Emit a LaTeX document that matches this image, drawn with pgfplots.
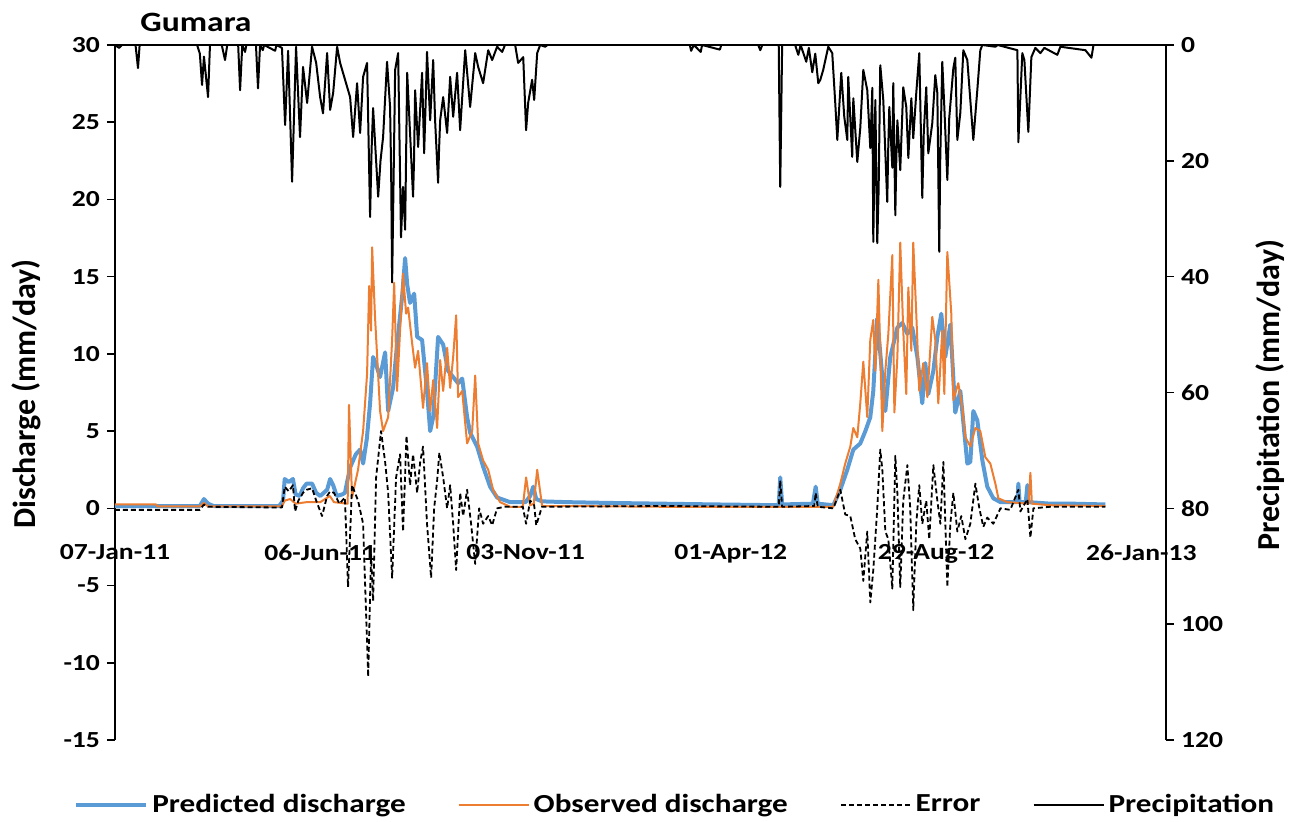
\documentclass[border=0pt]{standalone}
\usepackage{fontspec}
\setmainfont{Carlito}[FakeStretch=1.2]
\newfontfamily\rotfont{Carlito}
\usepackage{pgfplots}
\usepackage{pgfplotstable}
\pgfplotsset{compat=1.18}
\definecolor{predblue}{HTML}{5B9BD5}
\definecolor{obsorange}{HTML}{ED7D31}

% days after 07-Jan-11
\pgfplotstableread{
d v
0 0.15
30 0.15
62 0.15
65 0.6
68 0.3
72 0.15
120 0.15
122.8 0.5
124 1.9
127 1.7
130 1.9
132 0.9
135 0.8
137.4 1.3
140 1.6
144 1.6
147 1.0
150 0.8
155 1.2
157.2 1.9
159.4 1.5
162 0.8
166 0.9
168 1.0
171.8 2.65
176 3.5
179.1 3.8
181.3 2.9
184 4.5
186.4 6.8
188.6 9.8
190 9.5
193.7 8.5
197.4 10.1
199.6 6.3
203.2 7.8
206 10.5
209.8 13.7
212 16.2
213.5 14.5
215.6 13.3
218.6 13.9
220.8 11.1
224.4 10.9
228 7.6
230.3 5.0
232.5 5.9
236.1 11.1
239.8 10.6
243.4 8.9
247.1 8.5
250.7 8.1
253.7 8.4
257.3 5.9
259.5 4.9
264.6 4.0
269 2.7
274.1 1.4
279.2 0.7
288.7 0.4
300 0.4
303.4 0.8
305.6 1.4
307.8 0.6
312 0.45
330 0.4
360 0.35
400 0.3
440 0.25
485 0.2
486.1 2.0
487.5 0.25
510 0.3
512 1.4
513.5 0.3
524.9 0.2
530 1.2
535.1 2.5
539.5 3.8
544.6 4.2
548.3 5.0
551.9 5.9
554.1 7.6
557 12.3
560.7 8.5
562.9 6.3
566.5 9.8
571.7 11.7
575.3 12.0
579 11.3
582.6 11.7
586.3 9.8
589.9 6.8
592.1 9.4
594.3 7.4
598 8.9
600.9 11.1
603.8 12.6
606.7 9.8
610.4 11.9
614 6.2
617.7 7.6
622.8 2.9
625 3.0
627.2 6.3
630.1 5.7
633.8 3.1
637.4 1.4
641.8 0.65
647 0.4
659.4 0.4
660.1 1.6
661 0.4
665.5 0.4
666.7 1.5
667.6 0.4
683.5 0.3
700 0.3
723.7 0.25
}\pred

\pgfplotstableread{
d v
0 0.25
30 0.25
31 0.12
62 0.12
65 0.35
68 0.12
122 0.12
124 0.5
128 0.6
132 0.3
140 0.4
150 0.4
157 0.8
160 0.4
170 0.3
171 6.7
173.2 0.7
177.6 2.5
181.3 5.0
184.2 8.7
185.7 14.4
187.1 11.5
187.9 16.9
190 12.4
193.7 6.3
195.9 5.0
199.6 5.9
202.5 10.9
204 14.6
206.1 7.6
208.3 11.5
210.5 15.2
212.7 12.6
214.2 13.0
217.1 10.7
219.3 9.1
221.5 10.2
225.1 6.5
228 9.4
230.3 6.3
232.5 8.3
235.4 5.2
237.6 9.6
239.8 7.6
242.7 10.4
244.9 7.8
247.1 9.8
249.3 12.5
250.7 7.2
253.7 7.6
257.3 4.2
261 5.0
263.2 8.6
265.4 4.2
269 3.1
272.7 2.5
276.3 1.2
281.4 0.4
288.7 0.1
298 0.1
300.4 2.0
303.4 0.2
306 0.3
308.5 2.5
312.1 0.15
330 0.15
400 0.1
524.9 0.1
530 1.6
533.6 2.9
537.3 4.0
539.5 5.2
542.4 4.6
544.6 6.8
546.8 9.5
549.7 5.9
551.9 10.9
554.1 12.2
555.6 8.9
557.8 14.8
560.7 5.0
562.9 8.9
565.1 11.3
568 16.4
569.5 6.2
571.7 9.8
573.8 17.2
576 11.5
578.2 7.4
579.7 14.3
581.9 10.2
583.3 17.2
585.5 12.6
587.7 7.6
590.6 9.4
593.6 7.2
597.2 12.4
599.4 10.9
601.6 6.8
604.5 11.5
606 7.4
608.2 16.6
611.1 12.6
612.6 7.0
616.2 8.1
619.2 6.5
621.4 4.6
625 4.0
628.7 5.2
632.3 5.0
636 3.3
639.6 2.9
643.3 1.6
645.5 0.65
652 0.4
667.5 0.3
668.9 2.3
670 0.3
683.5 0.2
723.7 0.15
}\obs

\pgfplotstableread{
d v
0 -0.1
62 -0.1
65 0.25
68 0.1
122 0.05
124 1.4
127 1.1
130 1.5
131.6 -0.2
134 0.5
137.4 1.0
140 1.2
144 1.3
147 0.5
151.3 -0.5
155 0.8
157.2 1.1
160 1.0
164 0.3
168 0.7
170.3 -5.1
173.2 1.5
177.6 0.5
181.3 -1.0
185 -10.9
187.1 -3.0
188.6 -6.0
190.8 2.0
194.4 5.0
197.4 3.0
199.6 1.0
202.5 -4.5
205.4 2.0
208.3 3.5
210.5 -1.5
213 4.7
215.6 1.5
217.8 3.5
220.8 1.0
223 3.0
225.1 4.0
228 -1.0
231 -4.5
233.2 0.0
235.4 1.8
237 3.6
239.8 2.0
242.7 0.0
244.9 1.5
247.1 -1.0
249.3 -4.0
252.2 1.0
254.4 -0.5
257.3 1.2
260.2 -1.0
263.2 -3.6
266.1 0.0
269 -1.0
272.7 -0.5
275.6 -1.1
279.2 0.0
285 0.1
298 0.1
300.4 -1.0
303.4 0.5
306.3 0.2
307.8 -1.1
312 0.1
400 0.15
485 0.1
486.1 1.8
487.5 0.1
511 0.15
512 1.0
513.5 0.1
524.9 0.0
530 1.2
533.6 -0.4
537.3 -0.5
540.9 -2.0
544.6 -2.6
546.8 -4.7
549.7 -1.5
551.9 -6.1
554.1 -4.0
557 0.0
559.2 3.8
560.7 2.5
562.9 -1.5
565.1 -2.0
568 -5.2
570.2 3.4
571.7 1.0
573.8 -5.1
576 0.5
579 2.8
581.1 0.0
583.3 -6.6
585.5 -1.0
587.7 1.5
589.9 -1.0
592.8 0.5
595 -2.0
598 2.8
600.9 0.5
603.1 -1.0
605.3 3.0
608.2 -5.1
610.4 -1.0
612.6 1.0
615.5 -1.5
618.4 -0.5
621.4 -2.0
625 -1.0
628.7 1.6
631.6 0.0
634.5 -1.2
637.4 -0.6
641.8 -1.0
647 0.0
654.2 -0.1
660.1 1.2
661.6 -0.2
666.7 0.6
668.9 -1.9
671.1 0.0
683.5 0.1
723.7 0.1
}\err

\pgfplotstableread{
d v
0 0
3 0.5
5 0
15 0
16.8 4.0
18 0
60 0
62 1.5
63.6 6.9
65 2
68 9.0
69.4 0
78 0
80.4 2.6
82 0
90 0
91.4 7.8
93 0
95 1.2
96 0
103 0
104.5 7.5
106 0
108 0.9
109 0
117 1.0
118 0
122 0.5
124.3 13.8
126.5 1.0
129.4 23.6
132.3 0.3
135.2 15.9
137.4 3.8
140.4 10.0
144 0.3
147 3.1
149.9 9.0
152 11.8
155 1.4
157.2 11.2
159.4 8.3
162.3 0.3
164.5 3.1
168.1 6.0
171.8 9.0
174 15.9
176.9 6.6
179.1 15.2
181.3 5.5
184.2 3.1
186.4 29.7
187.5 18.0
188.6 10.9
192.3 26.2
194 20.0
195.9 15.9
198.8 2.9
201 10.7
201.8 22.0
202.5 41.0
204.7 4.3
206.9 1.4
209 33.2
210.5 24.5
212 31.9
213.5 4.8
215.6 15.2
217.8 26.2
218.5 20.0
219.3 7.8
221.5 17.6
224.4 4.8
225.9 18.7
227 10.0
228 1.2
230.3 13.0
232.5 2.6
233.9 13.0
236.1 23.8
236.8 18.0
237.6 13.0
239.8 9.0
242.7 15.2
244.9 5.5
247.1 12.4
250 4.8
252.2 14.7
255.9 0.9
259.5 10.7
263.2 1.4
265.4 3.8
269 6.6
272.7 0.9
275.6 2.6
279.2 0.3
282.9 1.2
285 0
292.4 0
294.6 3.1
298.3 2.1
300.4 14.7
301.9 10.0
304.8 6.0
306.3 9.5
308.5 1.4
310.7 0
314.3 0.3
316 0
420 0
421 1.0
423 0
428 1.2
429 0
442 0.8
443 0
470 0
471.5 0.9
473 0
485 0
486.1 24.5
487.5 0
497 0
499.3 1.7
501 0
505.1 2.9
507 0.5
509.5 4.7
511.7 1.5
513.9 6.6
515.4 6.0
517.5 4.3
521.2 0.3
524.1 1.4
526.3 10.0
527.8 16.4
530.7 4.8
532.9 12.4
535.1 16.4
535.8 5.5
538.7 19.3
539.5 9.2
542.4 20.2
544.6 14.3
546.8 4.3
549.7 7.8
551.9 17.8
553.4 7.4
554.1 34.0
555.6 9.5
557 34.2
558 25.0
559.2 3.5
561.4 9.5
564.3 27.1
565 18.0
565.8 10.7
568 21.2
568.7 6.6
570.2 29.4
570.9 20.0
571.7 13.0
573.8 21.6
576 7.3
578.2 10.7
579.7 19.5
581.9 9.2
583.3 16.1
585.5 8.3
587.7 1.4
589.9 26.4
591 15.0
592.8 7.3
594.3 18.7
597.2 13.5
599.4 5.2
600.9 8.3
602.3 35.7
603 20.0
604.5 2.9
606 10.7
608.2 23.3
609.6 12.6
612.6 4.0
614 2.2
615.5 16.4
617.7 11.7
619.9 0.9
622.8 2.6
627.2 16.4
630.1 7.8
632.3 0.9
633.8 0
643.3 0.3
645 0
659.4 0.9
660.1 16.8
663 1.4
664.5 2.6
667.4 15.0
669.6 2.1
672.5 0.5
676.2 1.4
679.1 0.5
688.6 1.7
690.8 0.3
709.1 0.9
713.5 2.2
715 0
723.7 0
}\precip

\begin{document}
\begin{tikzpicture}
\begin{axis}[
    at={(57.5pt,41pt)}, anchor=south west,
    scale only axis, width=525.5pt, height=347.5pt,
    xmin=0, xmax=768, ymin=-15, ymax=30,
    axis x line*=middle, axis y line*=left,
    hide obscured x ticks=false, hide obscured y ticks=false,
    x axis line style={draw=none},
    y axis line style={line width=0.8pt, -},
    xtick={0,150,300,450,600,750},
    xticklabels={07-Jan-11,06-Jun-11,03-Nov-11,01-Apr-12,29-Aug-12,26-Jan-13},
    xtick style={draw=none},
    ytick={-15,-10,...,30},
    tick align=outside, major tick length=4pt,
    ytick style={line width=0.8pt, black},
    ticklabel style={font=\bfseries\fontsize{11.5}{13}\selectfont},
    xticklabel style={yshift=-10.5pt},
    /pgf/number format/assume math mode=true,
    legend columns=4,
    legend style={at={(0.534,-0.0935)}, anchor=center, draw=none, fill=none,
        font=\bfseries\fontsize{13}{15}\selectfont,
        /tikz/every even column/.append style={column sep=24pt}},
    legend image code/.code={\draw[#1] (0pt,0pt) -- (35pt,0pt);},
    line join=round,
]
\draw[line width=0.8pt] (rel axis cs:0,1) -- (rel axis cs:1,1);
\addplot[predblue, line width=2pt, no markers] table[x=d, y=v] {\pred};
\addlegendentry{Predicted discharge}
\addplot[obsorange, line width=1pt, no markers] table[x=d, y=v] {\obs};
\addlegendentry{Observed discharge}
\addplot[black, line width=0.9pt, dash pattern=on 2.5pt off 1.5pt, no markers] table[x=d, y=v] {\err};
\addlegendentry{Error}
\addlegendimage{black, line width=1pt}
\addlegendentry{Precipitation}
\end{axis}

\begin{axis}[
    at={(57.5pt,41pt)}, anchor=south west,
    scale only axis, width=525.5pt, height=347.5pt,
    xmin=0, xmax=768, ymin=0, ymax=120, y dir=reverse,
    axis x line=none, axis y line*=right,
    y axis line style={line width=0.8pt, -},
    ytick={0,20,...,120},
    tick align=outside, major tick length=4pt,
    ytick style={line width=0.8pt, black},
    ticklabel style={font=\bfseries\fontsize{11.5}{13}\selectfont},
    /pgf/number format/assume math mode=true,
    line join=round,
]
\addplot[black, line width=1pt, no markers] table[x=d, y=v] {\precip};
\end{axis}

\node[anchor=base west, inner sep=0pt, font=\bfseries\fontsize{14}{16}\selectfont] at (70pt,395pt) {Gumara};
\node[rotate=90, inner sep=0pt, font=\rotfont\bfseries\fontsize{16}{18}\selectfont] at (13pt,214pt) {Discharge (mm/day)};
\node[rotate=90, inner sep=0pt, font=\rotfont\bfseries\fontsize{16}{18}\selectfont] at (635pt,213.5pt) {Precipitation (mm/day)};

\pgfresetboundingbox
\path (0,0) rectangle (650.5pt,411pt);
\end{tikzpicture}
\end{document}
